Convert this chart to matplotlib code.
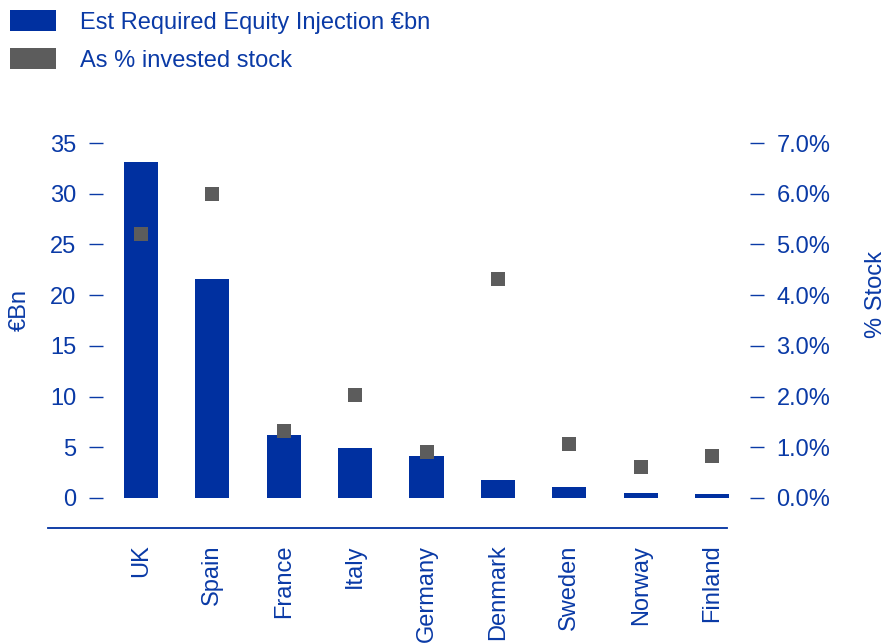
import matplotlib.pyplot as plt
import matplotlib
from matplotlib.patches import Patch
import numpy as np

plt.rcParams['font.family'] = ['Liberation Sans', 'DejaVu Sans']

countries = ['UK', 'Spain', 'France', 'Italy', 'Germany', 'Denmark', 'Sweden', 'Norway', 'Finland']
equity_bn = [33.1, 21.6, 6.2, 4.9, 4.1, 1.8, 1.1, 0.5, 0.4]
pct_stock = [5.2, 6.0, 1.32, 2.03, 0.91, 4.32, 1.07, 0.61, 0.83]

left_ticks = [0, 5, 10, 15, 20, 25, 30, 35]
right_ticks = [0, 1, 2, 3, 4, 5, 6, 7]
right_labels = ['0.0%', '1.0%', '2.0%', '3.0%', '4.0%', '5.0%', '6.0%', '7.0%']

blue = '#0030a0'
grey = '#5c5c5c'
txt = '#0a3aa6'
fs = 17

fig = plt.figure(figsize=(8.87, 6.44), dpi=100)
ax = fig.add_axes([103/887, 1-528/644, (750-103)/887, (528-143)/644])
ax2 = ax.twinx()

x = np.arange(len(countries))
ax.bar(x, equity_bn, width=0.48, color=blue, zorder=2)
ax2.scatter(x, pct_stock, marker='s', s=100, color=grey, zorder=3, linewidths=0)

ax.set_xlim(-0.53, 8.53)
ax.set_ylim(-2.96, 35)
ax2.set_ylim(-0.592, 7)

ax.set_yticks(left_ticks)
ax2.set_yticks(right_ticks)
ax2.set_yticklabels(right_labels)
ax.set_xticks(x)
ax.set_xticklabels(countries, rotation=90, va='top', ha='center')

for a in (ax, ax2):
    for s in a.spines.values():
        s.set_visible(False)
ax.tick_params(axis='y', direction='out', length=10, width=1, color=txt, labelcolor=txt, labelsize=fs, pad=9)
ax2.tick_params(axis='y', direction='out', length=10, width=1, color=txt, labelcolor=txt, labelsize=fs, pad=9)
ax.tick_params(axis='x', length=0, labelcolor=txt, labelsize=fs, pad=12)

# baseline below zero
ax.plot([-0.085, 0.964], [0, 0], transform=ax.transAxes, color=blue, lw=1.3, clip_on=False)

fig.text(20/887, 1-310/644, '€Bn', rotation=90, ha='center', va='center', color=txt, fontsize=fs)
fig.text(876/887, 1-294/644, '% Stock', rotation=90, ha='center', va='center', color=txt, fontsize=fs)

handles = [Patch(facecolor=blue, edgecolor='none'), Patch(facecolor=grey, edgecolor='none')]
fig.legend(handles, ['Est Required Equity Injection €bn', 'As % invested stock'],
           loc='upper left', bbox_to_anchor=(10/887, 1-10/644), frameon=False,
           borderaxespad=0, borderpad=0,
           fontsize=fs, labelcolor=txt, handlelength=1.95, handleheight=1.02,
           handletextpad=1.02, labelspacing=0.6)

fig.savefig('out.png', dpi=100)
